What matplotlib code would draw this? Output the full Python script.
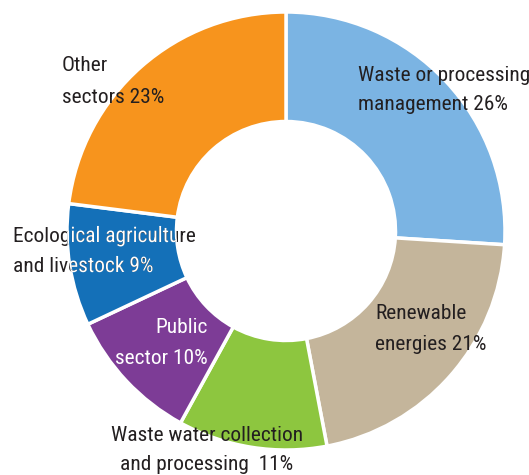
import matplotlib
matplotlib.use("Agg")
import matplotlib.pyplot as plt
from matplotlib import font_manager
from matplotlib.textpath import TextPath
from matplotlib.patches import PathPatch
from matplotlib.font_manager import FontProperties

names = {f.name for f in font_manager.fontManager.ttflist}
family = "DejaVu Sans"
stretch = "normal"
for cand in ["Liberation Sans Narrow", "Roboto Condensed", "Open Sans Condensed", "DejaVu Sans Condensed"]:
    if cand in names:
        family = cand
        break
else:
    stretch = "condensed"

categories = ["Waste or processing\nmanagement 26%", "Renewable\nenergies 21%",
              "Waste water collection\nand processing  11%", "Public\nsector 10%",
              "Ecological agriculture\nand livestock 9%", "Other\nsectors 23%"]
values = [26, 21, 11, 10, 9, 23]
colors = ["#7bb4e3", "#c4b59b", "#8dc63f", "#7d3c96", "#1470b8", "#f7941d"]

W, H = 529, 475
fig = plt.figure(figsize=(W / 100, H / 100), dpi=100)
ax = fig.add_axes([0, 0, 1, 1])

cx, cy, R = 286, H - 231, 219
wedges, _ = ax.pie(values, colors=colors, startangle=90, counterclock=False,
                   radius=R, center=(cx, cy), frame=True,
                   wedgeprops=dict(width=R * 0.5, edgecolor="white", linewidth=2.5))
ax.set_xlim(0, W)
ax.set_ylim(0, H)
ax.set_aspect("equal")
ax.axis("off")

fs = 15.4
dark = "#231f20"
fp = FontProperties(family=family, stretch=stretch, size=fs)

# label layout: x, first baseline (px from top), line gap, alignment, colour
layout = [(358, 81, 29, "left", dark), (375, 319, 31, "left", dark),
          (207, 441, 29, "center", dark), (208, 333, 31, "right", "white"),
          (13, 242, 30, "left", dark), (62, 71, 32, "left", dark)]

for i, (lab, (x, y0, gap, ha, c)) in enumerate(zip(categories, layout)):
    for k, line in enumerate(lab.split("\n")):
        yb = H - (y0 + k * gap)
        t = ax.text(x, yb, line, ha=ha, va="baseline", color=c, fontproperties=fp)
        if i == 4:
            # part of the label lying on the blue slice is drawn in white
            tp = TextPath((0, 0), line, size=fs * 100 / 72, prop=fp)
            fig.canvas.draw()
            bb = t.get_window_extent()
            x0 = ax.transData.inverted().transform((bb.x0, 0))[0]
            tp = TextPath((x0, yb), line, size=fs * 100 / 72, prop=fp)
            patch = PathPatch(tp, facecolor="white", edgecolor="none", zorder=5)
            ax.add_patch(patch)
            patch.set_clip_path(wedges[i])

fig.savefig("out.png", dpi=100)
